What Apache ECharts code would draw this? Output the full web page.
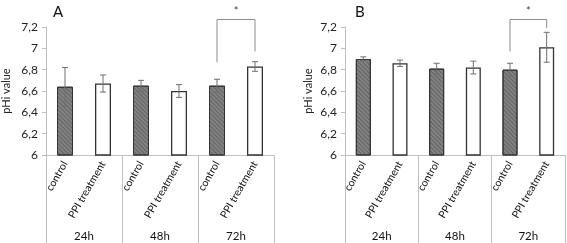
<!DOCTYPE html>
<html>
<head>
<meta charset="utf-8">
<script src="https://cdn.jsdelivr.net/npm/echarts@6/dist/echarts.min.js"></script>
<style>
  html, body { margin: 0; padding: 0; background: #fff; }
  #chart { width: 567px; height: 243px; }
</style>
</head>
<body>
<div id="chart"></div>
<script>
// categories
const barLabels = ['control', 'PPI treatment', 'control', 'PPI treatment', 'control', 'PPI treatment'];
const timeGroups = ['24h', '48h', '72h'];
const yTicks = { min: 6, max: 7.2, step: 0.2 };

// panel A: mean pHi and error
const phA = [6.64, 6.67, 6.65, 6.60, 6.65, 6.83];
const errA = [0.18, 0.08, 0.05, 0.06, 0.06, 0.045];
// panel B
const phB = [6.90, 6.86, 6.81, 6.82, 6.80, 7.01];
const errB = [0.02, 0.03, 0.05, 0.06, 0.06, 0.14];

// significance brackets: [fromIndex, toIndex, top, leftLegEnd, rightLegEnd]
const bracketA = [4, 5, 7.27, 6.87, 6.97];
const bracketB = [4, 5, 7.27, 6.97, 7.19];

const FONT = 'Lato';
const AXIS_GREY = '#bfbfbf';

const myChart = echarts.init(document.getElementById('chart'));

// control bars get a hatched grey fill, treatment bars are white
function barData(values) {
  return values.map(function (v, i) {
    if (i % 2 === 0) {
      return {
        value: v,
        itemStyle: {
          color: '#828282',
          borderColor: '#333',
          borderWidth: 1,
          decal: {
            symbol: 'rect',
            symbolSize: 1,
            color: 'rgba(40,40,40,0.35)',
            dashArrayX: [1, 0],
            dashArrayY: [1, 2],
            rotation: Math.PI / 4
          }
        }
      };
    }
    return {
      value: v,
      itemStyle: { color: '#ffffff', borderColor: '#333', borderWidth: 1.3 }
    };
  });
}

function errorSeries(values, errs, xi, yi) {
  return {
    type: 'custom',
    xAxisIndex: xi,
    yAxisIndex: yi,
    z: 5,
    renderItem: function (params, api) {
      const x = api.value(0), v = api.value(1), e = api.value(2);
      const top = api.coord([x, v + e]);
      const bot = api.coord([x, v - e]);
      const st = { stroke: '#6e6e6e', lineWidth: 1 };
      return {
        type: 'group',
        children: [
          { type: 'line', shape: { x1: top[0], y1: top[1], x2: bot[0], y2: bot[1] }, style: st },
          { type: 'line', shape: { x1: top[0] - 3, y1: top[1], x2: top[0] + 3, y2: top[1] }, style: st },
          { type: 'line', shape: { x1: bot[0] - 3, y1: bot[1], x2: bot[0] + 3, y2: bot[1] }, style: st }
        ]
      };
    },
    data: values.map(function (v, i) { return [i, v, errs[i]]; })
  };
}

function bracketSeries(b, xi, yi) {
  return {
    type: 'custom',
    xAxisIndex: xi,
    yAxisIndex: yi,
    clip: false,
    z: 6,
    encode: { x: 0, y: 2 },
    renderItem: function (params, api) {
      const p0 = api.coord([api.value(0), api.value(3)]);
      const p1 = api.coord([api.value(0), api.value(2)]);
      const p2 = api.coord([api.value(1), api.value(2)]);
      const p3 = api.coord([api.value(1), api.value(4)]);
      return {
        type: 'group',
        children: [
          { type: 'polyline', shape: { points: [p0, p1, p2, p3] }, style: { stroke: '#8c8c8c', lineWidth: 1, fill: null } },
          { type: 'text', x: (p1[0] + p2[0]) / 2, y: p1[1] - 3,
            style: { text: '*', fill: '#404040', font: '11px ' + FONT, align: 'center', verticalAlign: 'bottom' } }
        ]
      };
    },
    data: [b]
  };
}

function yAxisOpt(gi, gap) {
  return {
    type: 'value',
    gridIndex: gi,
    min: yTicks.min,
    max: yTicks.max,
    interval: yTicks.step,
    name: 'pHi value',
    nameLocation: 'middle',
    nameGap: gap,
    nameTextStyle: { fontFamily: FONT, fontSize: 11, color: '#222' },
    axisLine: { show: true, lineStyle: { color: AXIS_GREY } },
    axisTick: { show: true, length: 4, lineStyle: { color: AXIS_GREY } },
    splitLine: { show: false },
    axisLabel: {
      fontFamily: FONT, fontSize: 12, color: '#222', margin: 8,
      formatter: function (v) { return String(+v.toFixed(1)).replace('.', ','); }
    }
  };
}

function barAxis(gi) {
  return {
    type: 'category',
    gridIndex: gi,
    position: 'bottom',
    data: barLabels,
    axisLine: { show: false },
    axisTick: { show: false },
    axisLabel: { interval: 0, rotate: 60, margin: 7, fontFamily: FONT, fontSize: 10.5, color: '#111' }
  };
}

function groupAxis(gi) {
  return {
    type: 'category',
    gridIndex: gi,
    position: 'bottom',
    data: timeGroups,
    axisLine: { show: true, lineStyle: { color: AXIS_GREY } },
    axisTick: { show: true, interval: 0, length: 90, lineStyle: { color: AXIS_GREY } },
    axisLabel: { interval: 0, margin: 75, fontFamily: FONT, fontSize: 11.5, color: '#111' }
  };
}

const option = {
  animation: false,
  title: [
    { text: 'A', left: 48, top: 0, textStyle: { fontFamily: FONT, fontSize: 15, fontWeight: 'normal', color: '#111' } },
    { text: 'B', left: 350, top: 0, textStyle: { fontFamily: FONT, fontSize: 15, fontWeight: 'normal', color: '#111' } }
  ],
  grid: [
    { left: 45, right: 293, top: 27, bottom: 88 },
    { left: 345, right: 2, top: 27, bottom: 88 }
  ],
  xAxis: [barAxis(0), groupAxis(0), barAxis(1), groupAxis(1)],
  yAxis: [yAxisOpt(0, 34), yAxisOpt(1, 31)],
  series: [
    { type: 'bar', xAxisIndex: 0, yAxisIndex: 0, barWidth: 16, data: barData(phA) },
    errorSeries(phA, errA, 0, 0),
    bracketSeries(bracketA, 0, 0),
    { type: 'bar', xAxisIndex: 2, yAxisIndex: 1, barWidth: 15, data: barData(phB) },
    errorSeries(phB, errB, 2, 1),
    bracketSeries(bracketB, 2, 1)
  ]
};
myChart.setOption(option);
</script>
</body>
</html>
